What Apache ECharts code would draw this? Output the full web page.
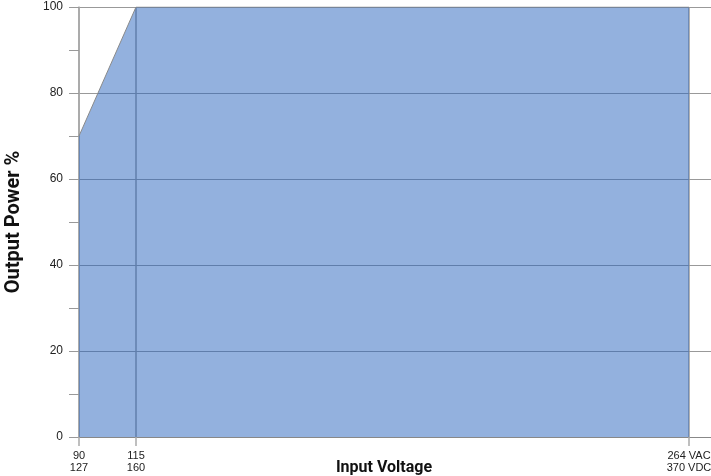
<!DOCTYPE html>
<html><head><meta charset="utf-8">
<script src="https://cdn.jsdelivr.net/npm/echarts@6/dist/echarts.min.js"></script>
<style>html,body{margin:0;padding:0;background:#fff}#c{width:711px;height:476px}</style>
</head><body><div id="c"></div>
<script>
// ---- data ----
const voltageAC = [90, 115, 264];
const voltageDC = [127, 160, 370];
const outputPower = [70, 100, 100];
const unitTail = ['', '', ' VAC'];
const unitTailDC = ['', '', ' VDC'];
const yMin = 0, yMax = 100, yStep = 20;

// ---- schematic (non-linear) x scale: voltage -> axis units ----
const scaleStops = [[90, 0], [115, 57], [264, 610]];
const axisEnd = 632;
function xs(v) {
  for (let i = 0; i < scaleStops.length - 1; i++) {
    const [v0, p0] = scaleStops[i], [v1, p1] = scaleStops[i + 1];
    if (v <= v1) return p0 + (v - v0) / (v1 - v0) * (p1 - p0);
  }
  return scaleStops[scaleStops.length - 1][1];
}
const tickPos = voltageAC.map(xs);
const labelMap = {};
voltageAC.forEach((v, i) => { labelMap[xs(v)] = v + unitTail[i] + '\n' + voltageDC[i] + unitTailDC[i]; });

const chart = echarts.init(document.getElementById('c'), null, {renderer: 'canvas'});
chart.setOption({
  animation: false,
  grid: {left: 79, right: 0, top: 7, bottom: 39, containLabel: false, outerBoundsMode: 'none'},
  xAxis: {
    type: 'value', min: 0, max: axisEnd,
    name: 'Input Voltage', nameLocation: 'middle', nameGap: 23, nameMoveOverlap: false,
    nameTextStyle: {fontFamily: 'Roboto', fontWeight: 'bold', fontSize: 16, color: '#111', padding: [0, 22, 0, 0]},
    axisLine: {show: true, lineStyle: {color: '#888', width: 1}},
    axisTick: {show: true, customValues: tickPos, length: 9, lineStyle: {color: '#aaa', width: 1.5}},
    axisLabel: {customValues: tickPos, formatter: v => labelMap[v] || '', fontFamily: 'Liberation Sans', fontSize: 11, color: '#222', lineHeight: 12, margin: 13},
    splitLine: {show: true, lineStyle: {color: '#999', width: 1.5}},
    minorTick: {show: false}
  },
  yAxis: {
    type: 'value', min: yMin, max: yMax, interval: yStep,
    name: 'Output Power %', nameLocation: 'middle', nameGap: 55, nameMoveOverlap: false,
    nameTextStyle: {fontFamily: 'Roboto', fontWeight: 'bold', fontSize: 20, color: '#111'},
    axisLine: {show: true, lineStyle: {color: '#aaa', width: 1.5}},
    axisTick: {show: true, length: 10, lineStyle: {color: '#999', width: 1}},
    minorTick: {show: true, splitNumber: 2, length: 10, lineStyle: {color: '#999', width: 1}},
    axisLabel: {fontFamily: 'Liberation Sans', fontSize: 12, color: '#222', margin: 16},
    splitLine: {show: true, lineStyle: {color: '#999', width: 1}}
  },
  series: [{
    type: 'line',
    data: voltageAC.map((v, i) => [xs(v), outputPower[i]]),
    symbol: 'none',
    lineStyle: {color: '#8a8a8a', width: 1},
    areaStyle: {color: 'rgba(40,100,190,0.5)', opacity: 1},
    z: 3
  }]
});
</script></body></html>
